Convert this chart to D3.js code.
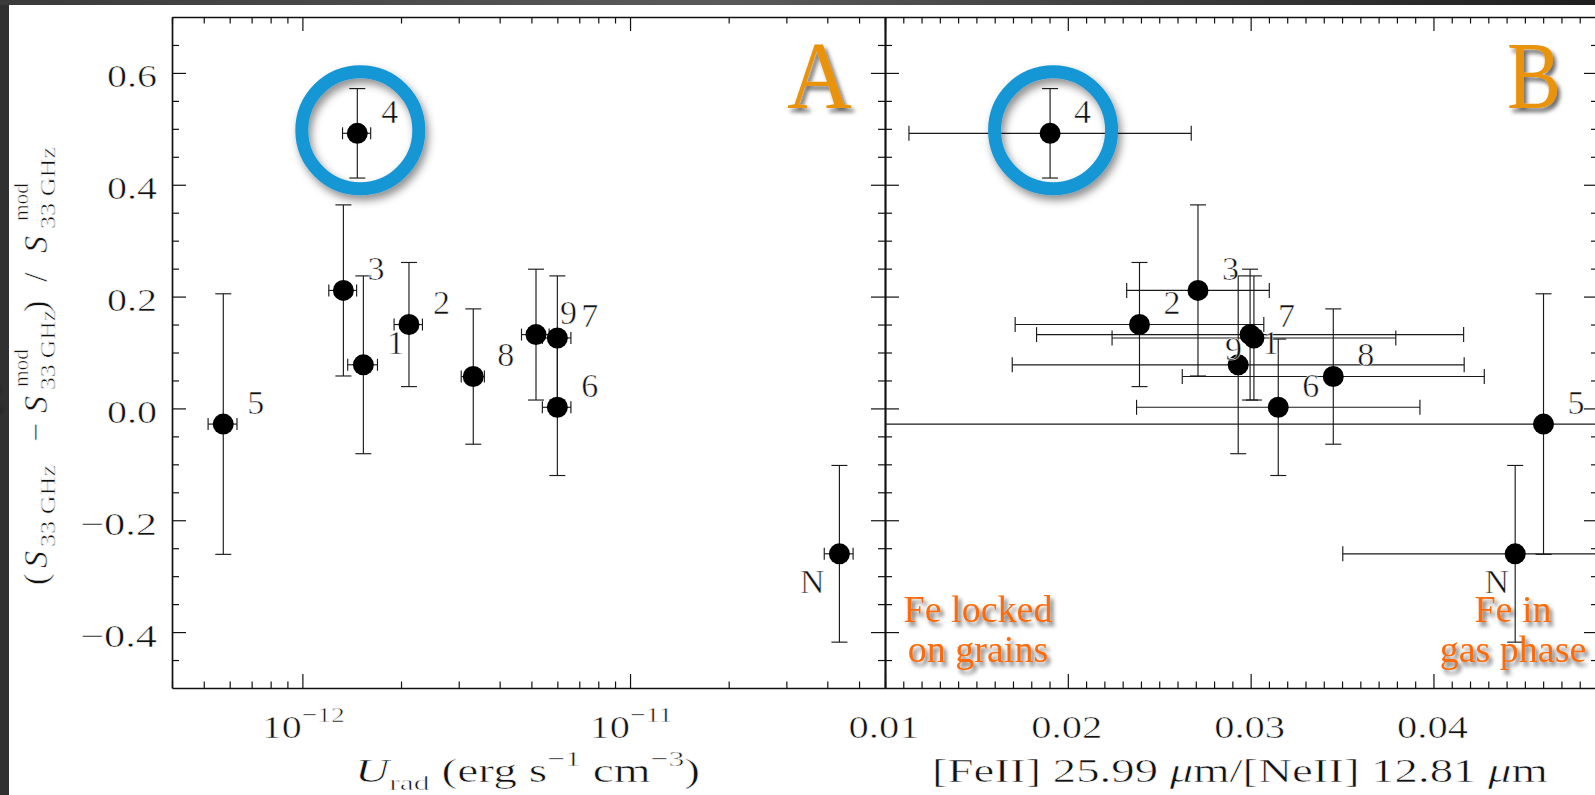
<!DOCTYPE html>
<html><head><meta charset="utf-8">
<script src="https://cdn.jsdelivr.net/npm/d3@7"></script>
<style>
html,body{margin:0;padding:0;background:#333;overflow:hidden}
svg{display:block}
text{font-family:"Liberation Serif","Times New Roman",serif;fill:#111}
text.thin{stroke:#fff;stroke-width:0.55px}
</style></head><body>
<svg id="chart" width="1595" height="795"></svg>
<script>
// ---------------- data ----------------
const ids      = ["1","2","3","4","5","6","7","8","9","N"];
const ratio    = [0.078, 0.150, 0.211, 0.492, -0.028, 0.002, 0.126, 0.057, 0.132, -0.260];
const ratioErr = [0.159, 0.111, 0.153, 0.080, 0.233, 0.122, 0.111, 0.121, 0.117, 0.158];
const urad     = [1.535e-12, 2.115e-12, 1.334e-12, 1.471e-12, 5.735e-13, 6.0e-12, 6.0e-12, 3.323e-12, 5.164e-12, 4.355e-11];
const uradErr  = [0.16e-12, 0.21e-12, 0.13e-12, 0.145e-12, 0.058e-12, 0.6e-12, 0.6e-12, 0.27e-12, 0.5e-12, 0.44e-11];
const feNe     = [0.02932, 0.02392, 0.02712, 0.01903, 0.04602, 0.03151, 0.03018, 0.03452, 0.02997, 0.04447];
const feNeErr  = [0.01236, 0.0068, 0.0039, 0.00772, 0.04, 0.00775, 0.00776, 0.00826, 0.01168, 0.00943];
const yTicks   = [-0.4, -0.2, 0.0, 0.2, 0.4, 0.6];
const yTickLabels = ["\u22120.4", "\u22120.2", "0.0", "0.2", "0.4", "0.6"];
const uradTicks = [1e-12, 1e-11];
const uradTickExp = ["\u221212", "\u221211"];
const feNeTicks = [0.01, 0.02, 0.03, 0.04];
const feNeTickLabels = ["0.01", "0.02", "0.03", "0.04"];
const yDomain = [-0.5, 0.7];
const uradDomain = [4e-13, 6e-11];
const feNeDomain = [0.01, 0.049];
const highlighted = "4";
const panelLetters = ["A", "B"];

// ---------------- layout ----------------
const W = 1595, H = 795;
const yTop = 17, yBot = 688;
const xA = d3.scaleLog().domain(uradDomain).range([172, 885]);
const xB = d3.scaleLinear().domain(feNeDomain).range([885, 1598]);
const y = d3.scaleLinear().domain(yDomain).range([yBot, yTop]);
const defaultOffset = [32.5, -22];
const labelOffset = { A: { N: [-27, 28] }, B: { N: [-18.5, 27.5], "9": [-16.5, 14] } };

const svg = d3.select("#chart");
const defs = svg.append("defs");
const grad = defs.append("linearGradient").attr("id", "band").attr("x1", "0%").attr("x2", "100%");
grad.append("stop").attr("offset", "0%").attr("stop-color", "#3a3a3a");
grad.append("stop").attr("offset", "45%").attr("stop-color", "#5a5a5a");
grad.append("stop").attr("offset", "100%").attr("stop-color", "#1e1e1e");
const fr = defs.append("filter").attr("id", "ringShadow").attr("x", "-40%").attr("y", "-40%").attr("width", "180%").attr("height", "180%");
fr.append("feDropShadow").attr("dx", 3).attr("dy", 5).attr("stdDeviation", 4).attr("flood-color", "#000").attr("flood-opacity", 0.45);
const ft = defs.append("filter").attr("id", "textShadow").attr("x", "-20%").attr("y", "-20%").attr("width", "140%").attr("height", "140%");
ft.append("feDropShadow").attr("dx", 3).attr("dy", 4).attr("stdDeviation", 2).attr("flood-color", "#000").attr("flood-opacity", 0.6);

svg.append("rect").attr("width", W).attr("height", H).attr("fill", "#303030");
svg.append("rect").attr("width", W).attr("height", 5).attr("fill", "url(#band)");
svg.append("rect").attr("x", 9).attr("y", 5).attr("width", W - 9).attr("height", H - 5).attr("fill", "#fff");
svg.append("text").attr("x", -24).attr("y", 409).attr("font-size", 40).style("fill", "#e8920e")
  .attr("filter", "url(#textShadow)").text("E");

// ---------------- axes ----------------
const yMinor = d3.range(-9, 14).map(k => +(k * 0.05).toFixed(2)).filter(v => !yTicks.some(t => Math.abs(t - v) < 1e-9));
const uradMinor = xA.ticks().filter(v => Math.abs(Math.log10(v) - Math.round(Math.log10(v))) > 1e-6);
const feNeMinor = d3.range(11, 49).map(k => k / 1000).filter(v => Math.abs(v * 100 - Math.round(v * 100)) > 1e-6);

function tickAxis(gen, scale, vals, len, pos, horiz, keepDomain) {
  const g = svg.append("g")
    .attr("transform", horiz ? `translate(0,${pos})` : `translate(${pos},0)`)
    .call(gen(scale).tickValues(vals).tickSizeInner(-len).tickSizeOuter(0).tickFormat(() => ""));
  g.selectAll(".tick line").attr("stroke", "#111").attr("stroke-width", 1.2);
  if (keepDomain) g.select(".domain").attr("stroke", "#111").attr("stroke-width", 1.7);
  else g.select(".domain").remove();
  return g;
}
[[xA, uradTicks, uradMinor], [xB, feNeTicks, feNeMinor]].forEach(([sx, maj, min]) => {
  tickAxis(d3.axisBottom, sx, maj, 14, yBot, true, true);
  tickAxis(d3.axisBottom, sx, min, 6.5, yBot, true, false);
  tickAxis(d3.axisTop, sx, maj, 14, yTop, true, true);
  tickAxis(d3.axisTop, sx, min, 6.5, yTop, true, false);
  const [r0, r1] = sx.range();
  tickAxis(d3.axisLeft, y, yTicks, 14, r0, false, true);
  tickAxis(d3.axisLeft, y, yMinor, 7, r0, false, false);
  tickAxis(d3.axisRight, y, yTicks, 14, r1, false, true);
  tickAxis(d3.axisRight, y, yMinor, 7, r1, false, false);
});

// tick labels
svg.append("g").selectAll("text").data(yTicks).join("text").attr("class", "thin")
  .attr("x", 157).attr("y", d => y(d) + 14.5).attr("text-anchor", "end")
  .attr("font-size", 32).attr("textLength", (d, i) => yTickLabels[i].length === 3 ? 50 : 77)
  .attr("lengthAdjust", "spacingAndGlyphs").text((d, i) => yTickLabels[i]);

const ul = svg.append("g").selectAll("text").data(uradTicks).join("text").attr("class", "thin")
  .attr("x", d => xA(d) + 1).attr("y", 738).attr("text-anchor", "middle")
  .attr("font-size", 32).attr("textLength", 83).attr("lengthAdjust", "spacingAndGlyphs");
ul.append("tspan").text("10");
ul.append("tspan").attr("font-size", 22).attr("dy", -16).text((d, i) => uradTickExp[i]);

svg.append("g").selectAll("text").data(feNeTicks).join("text").attr("class", "thin")
  .attr("x", d => xB(d) - 1).attr("y", 738).attr("text-anchor", "middle")
  .attr("font-size", 32).attr("textLength", 71).attr("lengthAdjust", "spacingAndGlyphs")
  .text((d, i) => feNeTickLabels[i]);

// axis titles
const tA = svg.append("text").attr("class", "thin").attr("x", 355).attr("y", 782).attr("font-size", 33)
  .attr("textLength", 345).attr("lengthAdjust", "spacingAndGlyphs");
tA.append("tspan").attr("font-style", "italic").text("U");
tA.append("tspan").attr("font-size", 22).attr("dy", 8).text("rad");
tA.append("tspan").attr("dy", -8).text("\u00a0(erg\u00a0s");
tA.append("tspan").attr("font-size", 22).attr("dy", -16).text("\u22121");
tA.append("tspan").attr("dy", 16).text("\u00a0cm");
tA.append("tspan").attr("font-size", 22).attr("dy", -16).text("\u22123");
tA.append("tspan").attr("dy", 16).text(")");

const tB = svg.append("text").attr("class", "thin").attr("x", 932).attr("y", 782).attr("font-size", 33)
  .attr("textLength", 616).attr("lengthAdjust", "spacingAndGlyphs");
tB.append("tspan").text("[FeII]\u00a025.99\u00a0");
tB.append("tspan").attr("font-style", "italic").text("\u03bc");
tB.append("tspan").text("m/[NeII]\u00a012.81\u00a0");
tB.append("tspan").attr("font-style", "italic").text("\u03bc");
tB.append("tspan").text("m");

// y title (rotated)
const yt = svg.append("g").attr("transform", "translate(47,585) rotate(-90)");
const yPieces = [
  { u: 0, t: "(", s: 34 }, { u: 17, t: "S", s: 34, it: 1 }, { u: 38, t: "33 GHz", s: 22, v: 8, L: 82 },
  { u: 143, t: "\u2212", s: 34 }, { u: 172, t: "S", s: 34, it: 1 }, { u: 198, t: "mod", s: 22, v: -19, L: 38 },
  { u: 195, t: "33 GHz", s: 22, v: 8, L: 80 }, { u: 273, t: ")", s: 34 }, { u: 303, t: "/", s: 34 },
  { u: 332, t: "S", s: 34, it: 1 }, { u: 364, t: "mod", s: 22, v: -19, L: 38 }, { u: 356, t: "33 GHz", s: 22, v: 8, L: 82 }
];
yt.selectAll("text").data(yPieces).join("text").attr("class", "thin")
  .attr("x", d => d.u).attr("y", d => d.v || 0).attr("font-size", d => d.s)
  .attr("font-style", d => d.it ? "italic" : null)
  .attr("textLength", d => d.L || null).attr("lengthAdjust", d => d.L ? "spacingAndGlyphs" : null)
  .text(d => d.t);

// ---------------- panels ----------------
function panel(key, sx, xv, xe, capH) {
  const [r0, r1] = sx.range();
  const cid = "clip" + key;
  defs.append("clipPath").attr("id", cid).append("rect")
    .attr("x", r0).attr("y", yTop).attr("width", r1 - r0).attr("height", yBot - yTop);
  const pts = ids.map((id, i) => ({ id, x: xv[i], xe: xe[i], y: ratio[i], ye: ratioErr[i] }));
  const g = svg.append("g").attr("clip-path", `url(#${cid})`)
    .attr("stroke", "#1a1a1a").attr("stroke-width", 1.15).attr("fill", "none");
  pts.forEach(p => {
    const cx = sx(p.x), cy = y(p.y);
    const xl = sx(p.x - p.xe), xr = sx(p.x + p.xe), yt0 = y(p.y + p.ye), yb = y(p.y - p.ye);
    g.append("line").attr("x1", cx).attr("x2", cx).attr("y1", yt0).attr("y2", yb);
    g.append("line").attr("x1", cx - 8).attr("x2", cx + 8).attr("y1", yt0).attr("y2", yt0);
    g.append("line").attr("x1", cx - 8).attr("x2", cx + 8).attr("y1", yb).attr("y2", yb);
    g.append("line").attr("x1", xl).attr("x2", xr).attr("y1", cy).attr("y2", cy);
    g.append("line").attr("x1", xl).attr("x2", xl).attr("y1", cy - capH).attr("y2", cy + capH);
    g.append("line").attr("x1", xr).attr("x2", xr).attr("y1", cy - capH).attr("y2", cy + capH);
  });
  svg.append("g").selectAll("circle").data(pts).join("circle")
    .attr("cx", d => sx(d.x)).attr("cy", d => y(d.y)).attr("r", 10.5).attr("fill", "#000");
  svg.append("g").selectAll("text").data(pts).join("text").attr("class", "thin")
    .attr("x", d => sx(d.x) + ((labelOffset[key][d.id] || defaultOffset)[0]))
    .attr("y", d => y(d.y) + ((labelOffset[key][d.id] || defaultOffset)[1]) + 11.5)
    .attr("text-anchor", "middle").attr("font-size", 34).text(d => d.id);
  const h = pts.find(p => p.id === highlighted);
  svg.append("circle").attr("cx", sx(h.x) + 3).attr("cy", y(h.y) - 3).attr("r", 58.5)
    .attr("fill", "none").attr("stroke", "#1897d5").attr("stroke-width", 13)
    .attr("filter", "url(#ringShadow)");
}
panel("A", xA, urad, uradErr, 6);
panel("B", xB, feNe, feNeErr, 7.5);

// panel letters
svg.append("text").attr("x", 787).attr("y", 108).attr("font-size", 95).attr("textLength", 65)
  .attr("lengthAdjust", "spacingAndGlyphs").style("fill", "#e9930f").attr("filter", "url(#textShadow)").text(panelLetters[0]);
svg.append("text").attr("x", 1507).attr("y", 108).attr("font-size", 95).attr("textLength", 54)
  .attr("lengthAdjust", "spacingAndGlyphs").style("fill", "#e9930f").attr("filter", "url(#textShadow)").text(panelLetters[1]);

// annotations
const ann = [
  { x: 978, lines: ["Fe locked", "on grains"] },
  { x: 1513, lines: ["Fe in", "gas phase"] }
];
ann.forEach(a => {
  const t = svg.append("text").attr("text-anchor", "middle").attr("font-size", 38)
    .style("fill", "#fb6a08").attr("filter", "url(#textShadow)");
  a.lines.forEach((l, i) => t.append("tspan").attr("x", a.x).attr("y", 622 + i * 40).text(l));
});
</script>
</body></html>
